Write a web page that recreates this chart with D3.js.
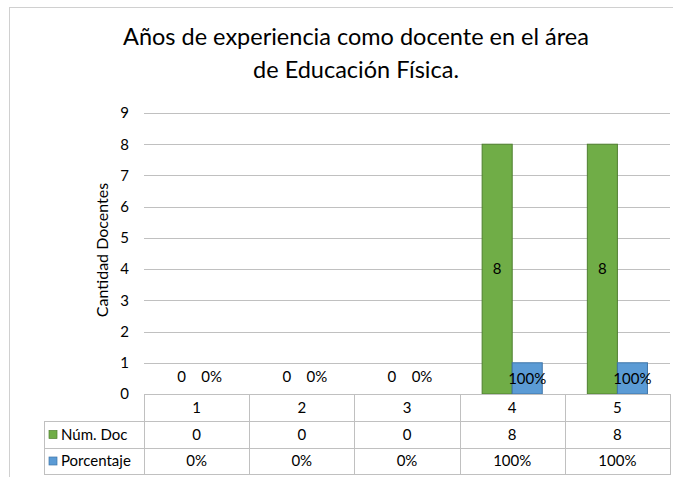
<!DOCTYPE html>
<html lang="es">
<head>
    <meta charset="UTF-8">
    <title>Años de experiencia</title>
    <style>
        body { margin: 0; background: #fff; }
        text { font-family: Lato, 'Open Sans', sans-serif; fill: #000; }
        .grid line { stroke: #c0c0c0; stroke-width: 1; shape-rendering: crispEdges; }
        .cell { fill: none; stroke: #c0c0c0; stroke-width: 1; shape-rendering: crispEdges; }
    </style>
</head>
<body>
    <div id='chart'></div>

    <script src='https://cdnjs.cloudflare.com/ajax/libs/d3/7.8.5/d3.min.js'></script>
    <script type='text/javascript'>
        const categories = ['1', '2', '3', '4', '5'];
        const numDoc = [0, 0, 0, 8, 8];
        const porcentaje = [0, 0, 0, 1, 1];   // plotted on the same axis as 1 = 100%
        const porcentajeLabels = ['0%', '0%', '0%', '100%', '100%'];
        const yTicks = [0, 1, 2, 3, 4, 5, 6, 7, 8, 9];
        const seriesNames = ['Núm. Doc', 'Porcentaje'];
        const seriesColors = ['#70ad47', '#5b9bd5'];
        const seriesStrokes = ['#4f7f30', '#3f75a8'];

        const width = 673;
        const height = 477;
        const plot = { left: 144, right: 670, top: 113, bottom: 394 };

        const svg = d3.select('#chart')
                      .append('svg')
                        .attr('width', width)
                        .attr('height', height);

        // chart border
        svg.append('rect')
             .attr('x', 9.5).attr('y', 7.5)
             .attr('width', 680).attr('height', 480)
             .attr('fill', 'none')
             .attr('stroke', '#d0d0d0');

        // title
        const title = svg.append('text')
                           .attr('text-anchor', 'middle')
                           .style('font-size', '23.5px');
        title.append('tspan').attr('x', 356).attr('y', 45).text('Años de experiencia como docente en el área');
        title.append('tspan').attr('x', 356).attr('y', 78).text('de Educación Física.');

        const yScale = d3.scaleLinear().domain([0, 9]).range([plot.bottom, plot.top]);
        const xScale = d3.scaleBand().domain(categories).range([plot.left, plot.right]).padding(0);
        const x1 = d3.scaleBand().domain([0, 1]).range([0, xScale.bandwidth()])
                     .paddingInner(0).paddingOuter(0.75);

        // gridlines
        svg.append('g')
             .attr('class', 'grid')
             .selectAll('line')
             .data(yTicks)
             .join('line')
               .attr('x1', plot.left).attr('x2', plot.right)
               .attr('y1', d => Math.round(yScale(d)) + 0.5)
               .attr('y2', d => Math.round(yScale(d)) + 0.5);

        // y axis labels
        const yAxis = d3.axisLeft(yScale).tickValues(yTicks).tickSize(0).tickPadding(0);
        svg.append('g')
             .attr('transform', 'translate(129, 0)')
             .call(yAxis)
             .call(g => g.select('.domain').remove())
             .selectAll('text')
               .style('font-size', '15px')
               .attr('fill', '#000');

        svg.append('text')
             .attr('transform', 'translate(108, 250) rotate(-90)')
             .attr('text-anchor', 'middle')
             .style('font-size', '16px')
             .text('Cantidad Docentes');

        // bars
        const series = [numDoc, porcentaje];
        const labels = [numDoc.map(String), porcentajeLabels];

        series.forEach((values, s) => {
            const g = svg.append('g');
            g.selectAll('rect')
               .data(values.map((v, i) => ({ cat: categories[i], v: v })))
               .join('rect')
                 .attr('x', d => xScale(d.cat) + x1(s))
                 .attr('width', x1.bandwidth())
                 .attr('y', d => yScale(d.v))
                 .attr('height', d => yScale(0) - yScale(d.v))
                 .attr('fill', seriesColors[s])
                 .attr('stroke', d => d.v > 0 ? seriesStrokes[s] : 'none');

            g.selectAll('text')
               .data(values.map((v, i) => ({ cat: categories[i], v: v, label: labels[s][i] })))
               .join('text')
                 .attr('x', d => xScale(d.cat) + x1(s) + x1.bandwidth() / 2)
                 .attr('y', d => d.v > 0 ? (yScale(0) + yScale(d.v)) / 2 : yScale(0) - 17)
                 .attr('dy', '0.35em')
                 .attr('text-anchor', 'middle')
                 .style('font-size', '15px')
                 .text(d => d.label);
        });

        // data table
        const rowTop = [394, 421, 448];
        const rowBottom = [421, 448, 474];
        const legendLeft = 44;
        const colX = c => Math.round(xScale(c));
        const colW = c => Math.round(xScale(c) + xScale.bandwidth()) - colX(c);

        const table = svg.append('g');

        // header row with category names
        table.selectAll('rect.head')
               .data(categories)
               .join('rect')
                 .attr('class', 'cell head')
                 .attr('x', d => colX(d) + 0.5)
                 .attr('y', rowTop[0] + 0.5)
                 .attr('width', d => colW(d))
                 .attr('height', rowBottom[0] - rowTop[0]);
        table.selectAll('text.head')
               .data(categories)
               .join('text')
                 .attr('class', 'head')
                 .attr('x', d => xScale(d) + xScale.bandwidth() / 2)
                 .attr('y', (rowTop[0] + rowBottom[0]) / 2)
                 .attr('dy', '0.35em')
                 .attr('text-anchor', 'middle')
                 .style('font-size', '15px')
                 .text(d => d);

        seriesNames.forEach((name, s) => {
            const r = s + 1;
            const cy = (rowTop[r] + rowBottom[r]) / 2;

            table.append('rect')
                   .attr('class', 'cell')
                   .attr('x', legendLeft + 0.5)
                   .attr('y', rowTop[r] + 0.5)
                   .attr('width', plot.left - legendLeft)
                   .attr('height', rowBottom[r] - rowTop[r]);
            table.append('rect')
                   .attr('x', legendLeft + 5)
                   .attr('y', cy - 4)
                   .attr('width', 8).attr('height', 8)
                   .attr('fill', seriesColors[s])
                   .attr('stroke', seriesStrokes[s])
                   .attr('stroke-width', 0.7);
            table.append('text')
                   .attr('x', legendLeft + 17)
                   .attr('y', cy)
                   .attr('dy', '0.35em')
                   .style('font-size', '15px')
                   .text(name);

            categories.forEach((c, i) => {
                table.append('rect')
                       .attr('class', 'cell')
                       .attr('x', colX(c) + 0.5)
                       .attr('y', rowTop[r] + 0.5)
                       .attr('width', colW(c))
                       .attr('height', rowBottom[r] - rowTop[r]);
                table.append('text')
                       .attr('x', xScale(c) + xScale.bandwidth() / 2)
                       .attr('y', cy)
                       .attr('dy', '0.35em')
                       .attr('text-anchor', 'middle')
                       .style('font-size', '15px')
                       .text(labels[s][i]);
            });
        });
    </script>
</body>
</html>
